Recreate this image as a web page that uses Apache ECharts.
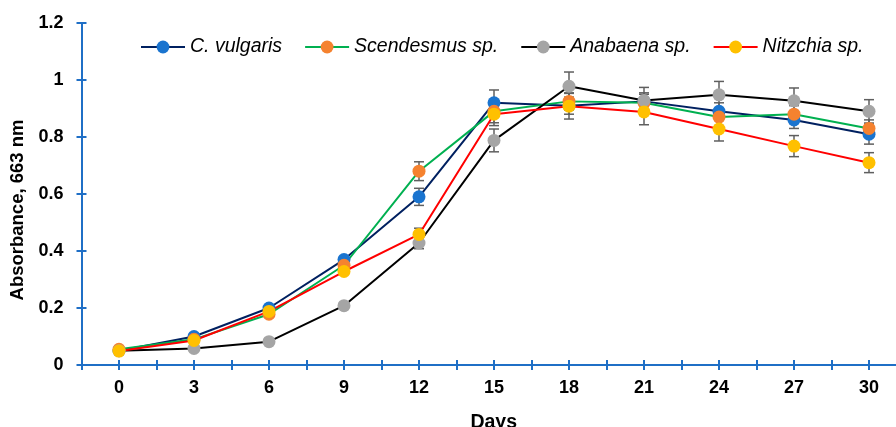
<!DOCTYPE html>
<html><head><meta charset="utf-8">
<script src="https://cdn.jsdelivr.net/npm/echarts@6/dist/echarts.min.js"></script>
<style>html,body{margin:0;padding:0;background:#fff}#c{width:896px;height:427px}</style>
</head><body><div id="c"></div><script>
const days=[0,3,6,9,12,15,18,21,24,27,30];
const xTickValues=[-1.5,0,1.5,3,4.5,6,7.5,9,10.5,12,13.5,15,16.5,18,19.5,21,22.5,24,25.5,27,28.5,30];
const seriesNames=['C. vulgaris','Scendesmus sp.','Anabaena sp.','Nitzchia sp.'];
const cVulgaris=[0.05,0.10,0.20,0.37,0.59,0.92,0.91,0.925,0.89,0.86,0.81];
const scendesmus=[0.055,0.09,0.178,0.35,0.68,0.89,0.925,0.92,0.87,0.88,0.83];
const anabaena=[0.05,0.058,0.082,0.208,0.428,0.788,0.978,0.928,0.948,0.927,0.89];
const nitzchia=[0.049,0.086,0.188,0.328,0.458,0.88,0.908,0.888,0.828,0.768,0.71];
const cVulgarisErr=[0.005,0.008,0.01,0.01,0.03,0.045,0.03,0.03,0.03,0.03,0.035];
const scendesmusErr=[0.005,0.008,0.01,0.015,0.033,0.04,0.03,0.03,0.03,0.03,0.03];
const anabaenaErr=[0.005,0.005,0.005,0.01,0.02,0.04,0.05,0.046,0.047,0.045,0.041];
const nitzchiaErr=[0.005,0.008,0.01,0.01,0.022,0.04,0.045,0.045,0.042,0.037,0.035];

const values=[cVulgaris,scendesmus,anabaena,nitzchia];
const errors=[cVulgarisErr,scendesmusErr,anabaenaErr,nitzchiaErr];
const lineColors=['#002060','#00B050','#000000','#FF0000'];
const markerColors=['#1A74CF','#F5822F','#A5A5A5','#FFC000'];
const axisColor='#1F6FC6';
const FONT='"Liberation Sans", Arial, sans-serif';

const chart=echarts.init(document.getElementById('c'),null,{renderer:'canvas'});
const series=[];
values.forEach((vals,i)=>{
  series.push({
    name:seriesNames[i],type:'line',xAxisIndex:0,yAxisIndex:0,
    data:days.map((d,k)=>[d,vals[k]]),
    symbol:'circle',symbolSize:13,showSymbol:true,
    lineStyle:{color:lineColors[i],width:2},
    itemStyle:{color:markerColors[i]},
    emphasis:{disabled:true},animation:false,z:2
  });
  series.push({
    type:'custom',xAxisIndex:0,yAxisIndex:0,silent:true,animation:false,z:2,
    data:days.map((d,k)=>[d,vals[k]-errors[i][k],vals[k]+errors[i][k]]),
    renderItem:function(params,api){
      const lo=api.coord([api.value(0),api.value(1)]);
      const hi=api.coord([api.value(0),api.value(2)]);
      const w=5;
      const st={stroke:'#5F5F5F',lineWidth:1.5};
      return {type:'group',children:[
        {type:'line',shape:{x1:lo[0],y1:lo[1],x2:hi[0],y2:hi[1]},style:st},
        {type:'line',shape:{x1:lo[0]-w,y1:lo[1],x2:lo[0]+w,y2:lo[1]},style:st},
        {type:'line',shape:{x1:hi[0]-w,y1:hi[1],x2:hi[0]+w,y2:hi[1]},style:st}
      ]};
    }
  });
});

const xBase={type:'value',min:-1.5,max:31.08,position:'bottom',
  splitLine:{show:false},
  axisLine:{show:true,onZero:false,lineStyle:{color:axisColor,width:2}}};
const yBase={type:'value',min:0,max:1.2,interval:0.2,position:'left',
  splitLine:{show:false},
  axisLine:{show:true,onZero:false,lineStyle:{color:axisColor,width:2}}};

chart.setOption({
  backgroundColor:'#ffffff',
  animation:false,
  grid:{left:81.5,right:0,top:23,bottom:62,outerBoundsMode:'none',containLabel:false},
  legend:{
    data:seriesNames,left:135,top:32,itemWidth:44,itemHeight:16,itemGap:22,
    textStyle:{fontFamily:FONT,fontSize:19.5,fontStyle:'italic',color:'#000'},
    selectedMode:false
  },
  xAxis:[
    Object.assign({},xBase,{
      name:'Days',nameLocation:'middle',nameGap:48,
      nameTextStyle:{fontFamily:FONT,fontSize:19.5,fontWeight:'bold',color:'#000',padding:[0,0,0,10]},
      axisTick:{show:true,inside:false,length:5,customValues:xTickValues,lineStyle:{color:axisColor,width:2}},
      axisLabel:{show:true,customValues:days,margin:14,fontFamily:FONT,fontSize:18,fontWeight:'bold',color:'#000'}
    }),
    Object.assign({},xBase,{
      axisTick:{show:true,inside:true,length:5,customValues:xTickValues,lineStyle:{color:axisColor,width:2}},
      axisLabel:{show:false}
    })
  ],
  yAxis:[
    Object.assign({},yBase,{
      name:'Absorbance, 663 nm',nameLocation:'middle',nameGap:46,
      nameTextStyle:{fontFamily:FONT,fontSize:18.5,fontWeight:'bold',color:'#000',padding:[0,32,0,0]},
      axisTick:{show:true,inside:false,length:5,lineStyle:{color:axisColor,width:2}},
      axisLabel:{show:true,margin:18,fontFamily:FONT,fontSize:18,fontWeight:'bold',color:'#000'}
    }),
    Object.assign({},yBase,{
      axisTick:{show:true,inside:true,length:5,lineStyle:{color:axisColor,width:2}},
      axisLabel:{show:false}
    })
  ],
  series:series
});
</script></body></html>
